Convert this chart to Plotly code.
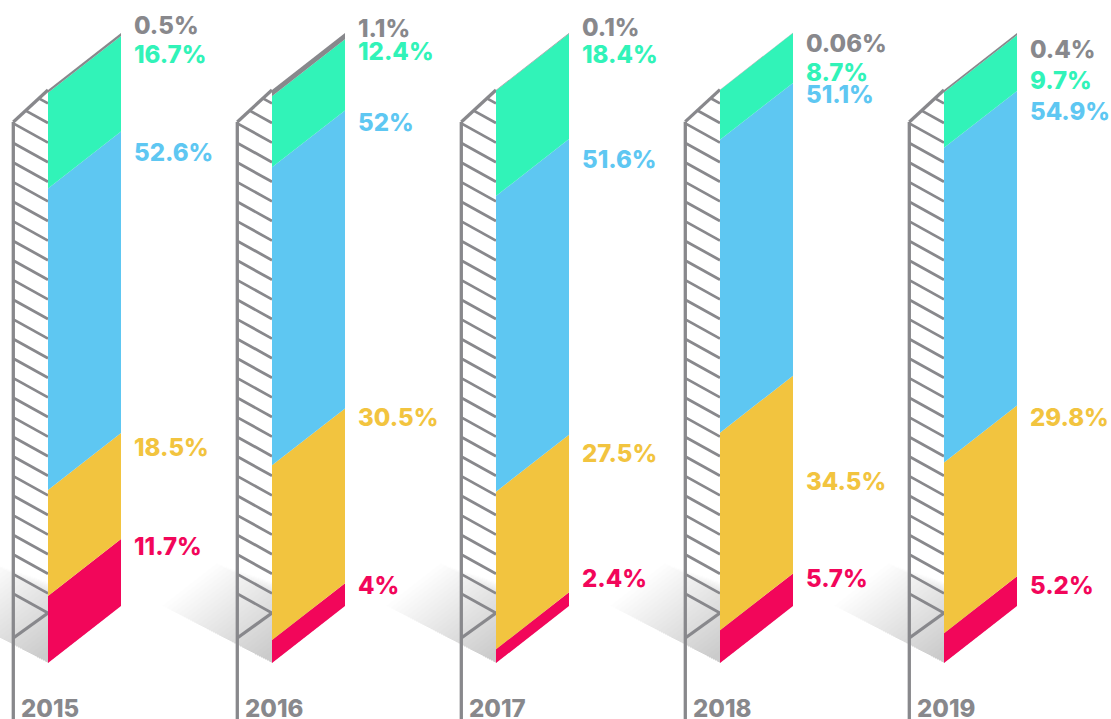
import plotly.graph_objects as go

# ---------------- data ----------------
years = ["2015", "2016", "2017", "2018", "2019"]
red = [11.7, 4.0, 2.4, 5.7, 5.2]
yellow = [18.5, 30.5, 27.5, 34.5, 29.8]
blue = [52.6, 52.0, 51.6, 51.1, 54.9]
green = [16.7, 12.4, 18.4, 8.7, 9.7]
gray = [0.5, 1.1, 0.1, 0.06, 0.4]

# ---------------- styling / layout ----------------
series = [red, yellow, blue, green, gray]          # stacked bottom -> top
colors = ["#F2065A", "#F2C43F", "#5EC7F2", "#31F3B8", "#88888C"]
label_colors = ["#F2065A", "#F2C43F", "#5EC7F2", "#31F3B8", "#88888C"]
# manual label nudges (pixels, positive = down) relative to segment top at right edge
label_nudge_px = [
    [7, 2.6, -14, 4.6, 9],
    [14.5, 9, 19, 106, 11.5],
    [20.4, 11.6, 20, 12, 21],
    [19, 11.7, 20.4, 39, 44.7],
    [-7.5, -5, -5.5, 11, 16],
]

W, H = 1111, 719
PX_X = 224.0            # px per column step
PX_Y = 5.73             # px per percentage point
X0_PX = 48.0            # first face left edge in px
Y0_PX = 663.0           # base line (left edge) in px
FW = 73.0 / PX_X        # face width (x units)
PW = 34.7 / PX_X        # hatched side panel width
RISE = 73.0 * 0.78 / PX_Y   # shear rise across face (y units)
GRAY = "#88888C"
FONT = "Inter"
FSIZE = 24
FWEIGHT = 800

x_range = [-X0_PX / PX_X, (W - X0_PX) / PX_X]
y_range = [-(H - Y0_PX) / PX_Y, Y0_PX / PX_Y]

fig = go.Figure()

def poly(xs, ys, fill, **kw):
    fig.add_trace(go.Scatter(x=xs, y=ys, fill="toself", fillcolor=fill, mode="none",
                             hoverinfo="skip", showlegend=False, **kw))

# ---- soft cast shadows ----
shadow_d = [110 - 4 * k for k in range(26)]
for i in range(len(years)):
    for n, d in enumerate(shadow_d):
        dxu = d / PX_X
        dyu = 0.52 * d / PX_Y
        # shrink the far (upper) side a little to fade toward the top-left
        shrink = 0.25 * (len(shadow_d) - n) / len(shadow_d)
        xs = [i, i + FW * (1 - shrink), i + FW * (1 - shrink) - dxu, i - dxu, i]
        ys = [0, RISE * (1 - shrink), RISE * (1 - shrink) + dyu, dyu, 0]
        poly(xs, ys, "rgba(0,0,0,0.0072)")

# ---- hatched side panels ----
line_x, line_y = [], []
hat_x, hat_y = [], []
for i in range(len(years)):
    total = sum(s[i] for s in series)
    xl, xr = i - PW, i
    top_l = total - 32.0 / PX_Y
    top_r = total
    bot_r = 50.0 / PX_Y
    bot_l = bot_r - 25.0 / PX_Y
    line_x += [xl, xl, None]
    line_y += [top_l, y_range[0] - 3, None]
    line_x += [xl, xr, None]
    line_y += [top_l, top_r, None]
    line_x += [xl, xr, None]
    line_y += [bot_l, bot_r, None]
    spacing = 19.6 / PX_Y
    drop = 19.25 / PX_Y
    k = 0
    while True:
        r = bot_r + k * spacing
        if r > top_r:
            break
        lft = r + drop
        if lft > top_l:
            t = (r + drop - top_l) / (drop + (top_r - top_l))
            sx = xl + t * (xr - xl)
            sy = top_l + t * (top_r - top_l)
        else:
            sx, sy = xl, lft
        hat_x += [sx, xr, None]
        hat_y += [sy, r, None]
        k += 1

fig.add_trace(go.Scatter(x=hat_x, y=hat_y, mode="lines", line=dict(color=GRAY, width=2.8),
                         hoverinfo="skip", showlegend=False))
fig.add_trace(go.Scatter(x=line_x, y=line_y, mode="lines", line=dict(color=GRAY, width=3.3),
                         hoverinfo="skip", showlegend=False))

# ---- stacked sheared faces ----
for i in range(len(years)):
    base = 0.0
    for j, s in enumerate(series):
        b, t = base, base + s[i]
        xs = [i, i + FW, i + FW, i, i]
        ys = [b, b + RISE, t + RISE, t, b]
        poly(xs, ys, colors[j])
        base = t

# ---- value labels ----
annotations = []
for i in range(len(years)):
    base = 0.0
    for j, s in enumerate(series):
        top = base + s[i]
        ylab = top + RISE - label_nudge_px[j][i] / PX_Y
        annotations.append(dict(
            x=i + FW + 10.5 / PX_X, y=ylab, xref="x", yref="y",
            text=f"{s[i]:g}%", showarrow=False, xanchor="left", yanchor="middle",
            font=dict(family=FONT, size=FSIZE, color=label_colors[j], weight=FWEIGHT)))
        base = top
    annotations.append(dict(
        x=i - PW + 5.5 / PX_X, y=-45.5 / PX_Y, xref="x", yref="y",
        text=years[i], showarrow=False, xanchor="left", yanchor="middle",
        font=dict(family=FONT, size=FSIZE, color=GRAY, weight=FWEIGHT)))

fig.update_layout(
    width=W, height=H, autosize=False,
    margin=dict(l=0, r=0, t=0, b=0, pad=0),
    paper_bgcolor="white", plot_bgcolor="white",
    xaxis=dict(range=x_range, visible=False, fixedrange=True),
    yaxis=dict(range=y_range, visible=False, fixedrange=True),
    showlegend=False,
    annotations=annotations,
)

fig.write_html("out.html", config={"displayModeBar": False},
               post_script="document.body.style.margin='0';document.body.style.overflow='hidden';")
